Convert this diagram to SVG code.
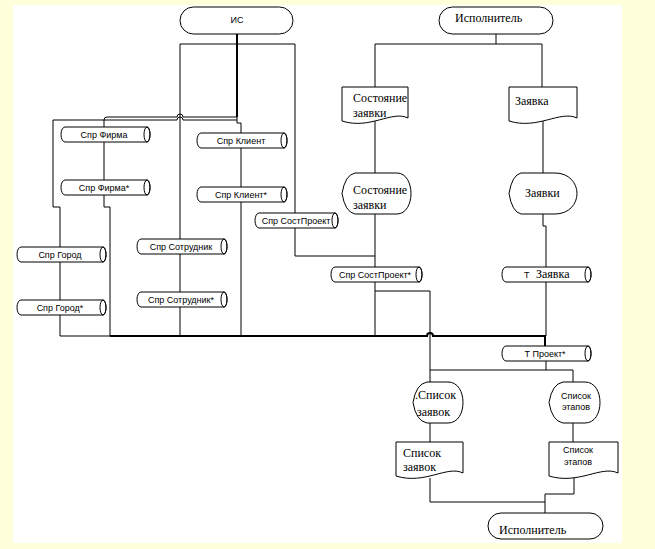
<svg xmlns="http://www.w3.org/2000/svg" width="655" height="549" viewBox="0 0 655 549">
<style>
.ln{fill:none;stroke:#000;stroke-width:1}
.th{fill:none;stroke:#000;stroke-width:2}
.sh{fill:#fff;stroke:#000;stroke-width:1}
.nf{fill:none;stroke:#000;stroke-width:1}
.sa{font-family:"Liberation Sans",Arial,sans-serif;font-size:9px;fill:#000}
.se{font-family:"Liberation Serif","Times New Roman",serif;font-size:12px;fill:#000}
.m{text-anchor:middle}
</style>
<rect x="0" y="0" width="655" height="549" fill="#FFFFDC"/>
<rect x="13" y="5" width="609" height="538" fill="#fff"/>
<g id="connectors">
<path class="th" d="M237,34 V117"/>
<path class="ln" d="M237,117 V123 H241 V336"/>
<path class="ln" d="M237,117 H183 A3,3 0 0 0 177,117 H107 Q104,117 104,120 V207 H110 V336"/>
<path class="ln" d="M237,120 H183 A3,3 0 0 0 177,120 H53 V207 H60 V336"/>
<path class="ln" d="M180,336 V44 H295 V256 H375"/>
<path class="ln" d="M60,336 H110"/>
<path class="th" d="M110,336 H427 A3,3 0 0 1 433,336 H545 V346"/>
<path class="ln" d="M496,34 V44 M375,44 H542 M375,44 V87 M542,44 V87"/>
<path class="ln" d="M375,120 V173 M375,214 V267 M375,282 V336"/>
<path class="ln" d="M543,118 V173 M543,214 V226 H546 V267 M546,282 V336"/>
<path class="ln" d="M375,291 H430 V382"/>
<path class="ln" d="M546,361 V370 M430,370 H573 V382"/>
<path class="ln" d="M430,423 V442 M573,423 V442"/>
<path class="ln" d="M430,478 V502 H545 M574,474 V494 H545 V513"/>
</g>
<g id="n-is"><rect class="sh" x="180" y="7" width="113" height="27" rx="13.5"/><text class="sa m" x="237" y="23">ИС</text></g>
<g id="n-isp-top"><rect class="sh" x="439" y="7" width="114" height="27" rx="13.5"/><text class="se" x="455" y="22">Исполнитель</text></g>
<g id="n-doc-sost"><path class="sh" d="M342,87 H408 V118 C392,110 370,130 342,121 Z"/><text class="se" x="353" y="102">Состояние</text><text class="se" x="353" y="117">заявки</text></g>
<g id="n-doc-zayavka"><path class="sh" d="M509,87 H577 V118 C560,110 538,130 509,121 Z"/><text class="se" x="515" y="105">Заявка</text></g>
<g id="n-disp-sost"><path class="sh" d="M342,193.5 Q345,175 355,173 H397 C406,173 411,183 411,193.5 C411,204 406,214 397,214 H355 Q345,212 342,193.5 Z"/><text class="se" x="353" y="194">Состояние</text><text class="se" x="353" y="209">заявки</text></g>
<g id="n-disp-zayavki"><path class="sh" d="M509,193.5 Q512,175 521,173 H555 C569,173 577,183 577,193.5 C577,204 569,214 555,214 H521 Q512,212 509,193.5 Z"/><text class="se" x="525" y="197">Заявки</text></g>
<g id="n-firma"><path class="sh" d="M65,127 H147 A3,7.5 0 0 1 147,142 H65 A4,7.5 0 0 1 65,127 Z"/><ellipse class="nf" cx="147" cy="134.5" rx="3" ry="7.5"/><text class="sa m" x="104" y="138">Спр Фирма</text></g>
<g id="n-firma2"><path class="sh" d="M65,180 H147 A3,7.5 0 0 1 147,195 H65 A4,7.5 0 0 1 65,180 Z"/><ellipse class="nf" cx="147" cy="187.5" rx="3" ry="7.5"/><text class="sa m" x="104" y="191">Спр Фирма*</text></g>
<g id="n-klient"><path class="sh" d="M201,133 H284 A3,7.5 0 0 1 284,148 H201 A4,7.5 0 0 1 201,133 Z"/><ellipse class="nf" cx="284" cy="140.5" rx="3" ry="7.5"/><text class="sa m" x="241" y="144">Спр Клиент</text></g>
<g id="n-klient2"><path class="sh" d="M201,187 H284 A3,7.5 0 0 1 284,202 H201 A4,7.5 0 0 1 201,187 Z"/><ellipse class="nf" cx="284" cy="194.5" rx="3" ry="7.5"/><text class="sa m" x="241" y="198">Спр Клиент*</text></g>
<g id="n-sostproekt"><path class="sh" d="M259,213 H335 A3,7.5 0 0 1 335,228 H259 A4,7.5 0 0 1 259,213 Z"/><ellipse class="nf" cx="335" cy="220.5" rx="3" ry="7.5"/><text class="sa m" x="296" y="224">Спр СостПроект</text></g>
<g id="n-gorod"><path class="sh" d="M21,247 H103 A3,7.5 0 0 1 103,262 H21 A4,7.5 0 0 1 21,247 Z"/><ellipse class="nf" cx="103" cy="254.5" rx="3" ry="7.5"/><text class="sa m" x="60" y="258">Спр Город</text></g>
<g id="n-gorod2"><path class="sh" d="M21,300 H103 A3,7.5 0 0 1 103,315 H21 A4,7.5 0 0 1 21,300 Z"/><ellipse class="nf" cx="103" cy="307.5" rx="3" ry="7.5"/><text class="sa m" x="60" y="311">Спр Город*</text></g>
<g id="n-sotr"><path class="sh" d="M141,239 H224 A3,7.5 0 0 1 224,254 H141 A4,7.5 0 0 1 141,239 Z"/><ellipse class="nf" cx="224" cy="246.5" rx="3" ry="7.5"/><text class="sa m" x="181" y="250">Спр Сотрудник</text></g>
<g id="n-sotr2"><path class="sh" d="M141,292 H224 A3,7.5 0 0 1 224,307 H141 A4,7.5 0 0 1 141,292 Z"/><ellipse class="nf" cx="224" cy="299.5" rx="3" ry="7.5"/><text class="sa m" x="181" y="303">Спр Сотрудник*</text></g>
<g id="n-sostproekt2"><path class="sh" d="M335,267 H419 A3,7.5 0 0 1 419,282 H335 A4,7.5 0 0 1 335,267 Z"/><ellipse class="nf" cx="419" cy="274.5" rx="3" ry="7.5"/><text class="sa m" x="375" y="278">Спр СостПроект*</text></g>
<g id="n-tzayavka"><path class="sh" d="M506,267 H588 A3,7.5 0 0 1 588,282 H506 A4,7.5 0 0 1 506,267 Z"/><ellipse class="nf" cx="588" cy="274.5" rx="3" ry="7.5"/><text class="sa" x="524" y="278">Т</text><text class="se" x="536" y="278">Заявка</text></g>
<g id="n-tproekt"><path class="sh" d="M506,346 H588 A3,7.5 0 0 1 588,361 H506 A4,7.5 0 0 1 506,346 Z"/><ellipse class="nf" cx="588" cy="353.5" rx="3" ry="7.5"/><text class="sa m" x="545" y="357">Т Проект*</text></g>
<g id="n-disp-spz"><path class="sh" d="M413,402.5 Q416,384 427,382 H448 C458,382 463,392 463,402.5 C463,413 458,423 448,423 H427 Q416,421 413,402.5 Z"/><text class="se" x="415" y="399">.Список</text><text class="se" x="417" y="416">заявок</text></g>
<g id="n-disp-spe"><path class="sh" d="M549,402.5 Q552,384 563,382 H585 C595,382 600,392 600,402.5 C600,413 595,423 585,423 H563 Q552,421 549,402.5 Z"/><text class="sa m" x="576" y="399">Список</text><text class="sa m" x="576" y="410">этапов</text></g>
<g id="n-doc-spz"><path class="sh" d="M396,442 H463 V473 C447,465 425,485 396,476 Z"/><text class="se" x="403" y="457">Список</text><text class="se" x="403" y="471">заявок</text></g>
<g id="n-doc-spe"><path class="sh" d="M549,442 H618 V473 C601,465 579,485 549,476 Z"/><text class="sa m" x="578" y="453">Список</text><text class="sa m" x="578" y="465">этапов</text></g>
<g id="n-isp-bot"><rect class="sh" x="488" y="513" width="115" height="26" rx="13"/><text class="se" x="499" y="534">Исполнитель</text></g>
</svg>
